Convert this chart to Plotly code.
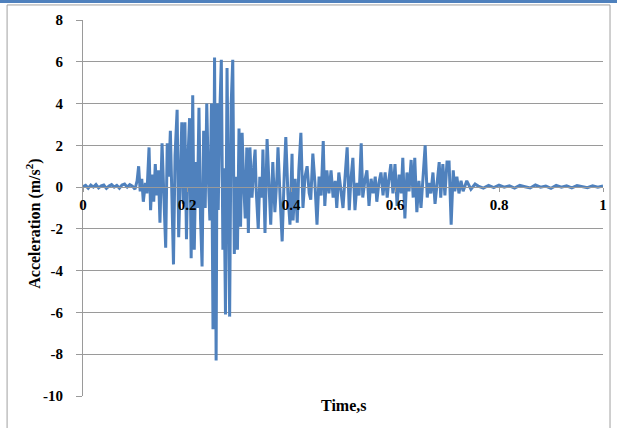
import plotly.graph_objects as go

# ---- data ----
time_s = [
    0.000, 0.005, 0.010, 0.015, 0.020, 0.025, 0.030, 0.035, 0.040, 0.045,
    0.050, 0.055, 0.060, 0.065, 0.070, 0.075, 0.080, 0.085, 0.090, 0.095,
    0.100, 0.104, 0.107, 0.110, 0.113, 0.116, 0.120, 0.123, 0.127, 0.130,
    0.133, 0.136, 0.139, 0.142, 0.145, 0.148, 0.152, 0.156, 0.159, 0.162,
    0.165, 0.168, 0.171, 0.174, 0.177, 0.181, 0.184, 0.187, 0.190, 0.193,
    0.196, 0.199, 0.202, 0.205, 0.208, 0.211, 0.214, 0.217, 0.220, 0.223,
    0.226, 0.229, 0.232, 0.235, 0.238, 0.241, 0.244, 0.247, 0.250, 0.253,
    0.256, 0.258, 0.260, 0.263, 0.266, 0.269, 0.271, 0.274, 0.277, 0.280,
    0.282, 0.285, 0.288, 0.291, 0.294, 0.297, 0.300, 0.303, 0.306, 0.309,
    0.312, 0.315, 0.318, 0.321, 0.325, 0.329, 0.331, 0.333, 0.337, 0.340,
    0.344, 0.346, 0.350, 0.354, 0.358, 0.361, 0.365, 0.369, 0.373, 0.375,
    0.379, 0.383, 0.387, 0.390, 0.394, 0.398, 0.402, 0.404, 0.408, 0.412,
    0.415, 0.419, 0.423, 0.427, 0.431, 0.435, 0.438, 0.442, 0.446, 0.450,
    0.454, 0.458, 0.462, 0.465, 0.469, 0.473, 0.477, 0.481, 0.485, 0.488,
    0.492, 0.496, 0.500, 0.504, 0.508, 0.512, 0.515, 0.519, 0.523, 0.527,
    0.531, 0.535, 0.538, 0.542, 0.546, 0.550, 0.554, 0.558, 0.562, 0.565,
    0.569, 0.573, 0.577, 0.581, 0.585, 0.588, 0.592, 0.596, 0.600, 0.604,
    0.608, 0.612, 0.615, 0.619, 0.623, 0.627, 0.631, 0.635, 0.638, 0.642,
    0.646, 0.650, 0.654, 0.658, 0.662, 0.665, 0.669, 0.673, 0.677, 0.681,
    0.685, 0.688, 0.692, 0.696, 0.700, 0.704, 0.708, 0.712, 0.715, 0.719,
    0.723, 0.727, 0.731, 0.738, 0.746, 0.754, 0.760, 0.770, 0.780, 0.790,
    0.800, 0.810, 0.820, 0.830, 0.840, 0.850, 0.860, 0.870, 0.880, 0.890,
    0.900, 0.910, 0.920, 0.930, 0.940, 0.950, 0.960, 0.970, 0.980, 0.990,
    1.000,
]

accel = [
    0.02, 0.08, -0.05, 0.10, 0.00, 0.12, -0.04, 0.06, 0.10, -0.06,
    0.05, 0.12, 0.00, 0.08, -0.05, 0.10, 0.15, 0.00, 0.12, 0.05,
    -0.1, 0.3, 1.0, -0.2, 0.4, -0.7, 0.2, -0.3, 1.9, -1.1,
    0.6, -0.7, 1.1, -0.4, 0.8, -1.7, 2.1, -1.0, -2.9, 2.1,
    0.5, 2.7, -1.2, -3.7, 1.5, 3.7, -2.4, 1.0, 3.1, -0.8,
    3.1, -2.5, 1.5, 3.3, -3.4, 4.4, -3.0, 1.2, -1.0, 3.8,
    -1.5, -3.8, 2.7, -1.0, 4.0, 0.5, -1.6, 4.0, -6.8, 6.2,
    -8.3, 4.0, -1.1, 3.5, 6.1, -3.0, 0.9, -6.1, 5.7, -1.0,
    -6.2, 4.0, 6.1, -3.2, 0.5, -3.0, 2.8, -1.9, 2.6, 0.2,
    -1.5, 1.9, -2.2, 1.9, -0.5, 1.2, 1.8, -0.1, -2.0, 0.5,
    -0.5, 1.8, -2.2, 2.3, 0.3, -1.8, 1.2, -1.2, 0.5, 1.9,
    -0.5, -2.6, 0.6, 2.4, -0.3, -1.8, 1.6, -1.6, 0.4, -1.7,
    0.8, 2.6, -1.0, 0.5, 1.0, -0.3, -0.6, 1.6, 0.2, -1.8,
    0.5, -0.4, 2.2, -0.9, 0.8, -0.3, 0.8, -0.5, 0.3, -1.0,
    0.7, -0.3, -1.0, 0.5, 1.9, -1.1, 0.3, 1.4, -1.1, 0.2,
    -0.4, 2.1, -0.5, 0.3, 0.8, -0.9, 0.4, -0.3, 0.5, -0.7,
    0.2, 0.7, -0.4, 0.7, -0.5, 0.3, 1.1, -0.3, 1.1, -0.9,
    0.6, -0.3, 1.4, -1.5, 0.7, -0.2, 1.3, -0.5, 1.4, -1.2,
    0.3, -1.0, 0.5, 2.0, -0.5, 0.2, -0.3, 0.7, -0.8, 0.3,
    1.2, -0.5, 1.1, -0.4, 1.2, 1.2, -1.8, 0.8, -0.2, 0.5,
    -0.3, 0.3, -0.2, 0.3, -0.1, 0.15, 0.05, -0.05, 0.08, -0.02,
    0.10, 0.00, 0.06, -0.05, 0.08, 0.02, -0.04, 0.10, 0.00, 0.05,
    -0.06, 0.08, 0.00, 0.06, -0.04, 0.07, 0.02, -0.03, 0.06, 0.00,
    0.05,
]

x_ticks = [0, 0.2, 0.4, 0.6, 0.8, 1]
x_tick_labels = ["0", "0.2", "0.4", "0.6", "0.8", "1"]
y_ticks = [-10, -8, -6, -4, -2, 0, 2, 4, 6, 8]
y_tick_labels = ["-10", "-8", "-6", "-4", "-2", "0", "2", "4", "6", "8"]

x_title = "Time,s"
y_title = "Acceleration (m/s<sup>2</sup>)"

# ---- figure ----
FONT = "Liberation Serif"
GRID = "#9a9a9a"

fig = go.Figure()
fig.add_trace(go.Scatter(
    x=time_s, y=accel, mode="lines",
    line=dict(color="#4f81bd", width=3),
    hoverinfo="skip", showlegend=False,
))

fig.update_layout(
    width=617, height=428,
    margin=dict(l=83, r=14, t=20, b=32, autoexpand=False),
    paper_bgcolor="white", plot_bgcolor="white",
    font=dict(family=FONT, color="black"),
    xaxis=dict(
        range=[0, 1], tickvals=x_ticks, ticktext=x_tick_labels,
        showgrid=False, zeroline=False,
        showline=True, linecolor=GRID, linewidth=1,
        ticks="outside", ticklen=4, tickcolor=GRID,
        tickfont=dict(family=FONT, size=15, weight="bold"),
        anchor="free", position=10 / 18,
    ),
    yaxis=dict(
        range=[-10, 8], tickvals=y_ticks, ticktext=y_tick_labels,
        showgrid=True, gridcolor=GRID, gridwidth=1,
        zeroline=False,
        showline=True, linecolor=GRID, linewidth=1,
        ticks="outside", ticklen=6, tickcolor=GRID,
        ticklabelstandoff=10,
        tickfont=dict(family=FONT, size=15, weight="bold"),
    ),
    annotations=[
        dict(text=x_title, xref="paper", yref="paper",
             x=0.5, y=-0.024, xanchor="center", yanchor="middle",
             showarrow=False, font=dict(family=FONT, size=16, weight="bold")),
        dict(text=y_title, xref="paper", yref="paper",
             x=-0.095, y=0.457, xanchor="center", yanchor="middle",
             textangle=-90, showarrow=False,
             font=dict(family=FONT, size=16, weight="bold")),
    ],
    shapes=[
        dict(type="rect", xref="paper", yref="paper",
             x0=-0.146, x1=1.0135, y0=-0.2, y1=1.04,
             line=dict(color="#a0a0a0", width=1), layer="below"),
        dict(type="rect", xref="paper", yref="paper",
             x0=-0.3, x1=1.2, y0=1.045, y1=1.06,
             line=dict(width=0), fillcolor="#4f81bd", layer="above"),
    ],
)

fig.write_html(
    "out.html",
    config={"displayModeBar": False},
    post_script="document.body.style.margin='0';document.body.style.padding='0';",
)
